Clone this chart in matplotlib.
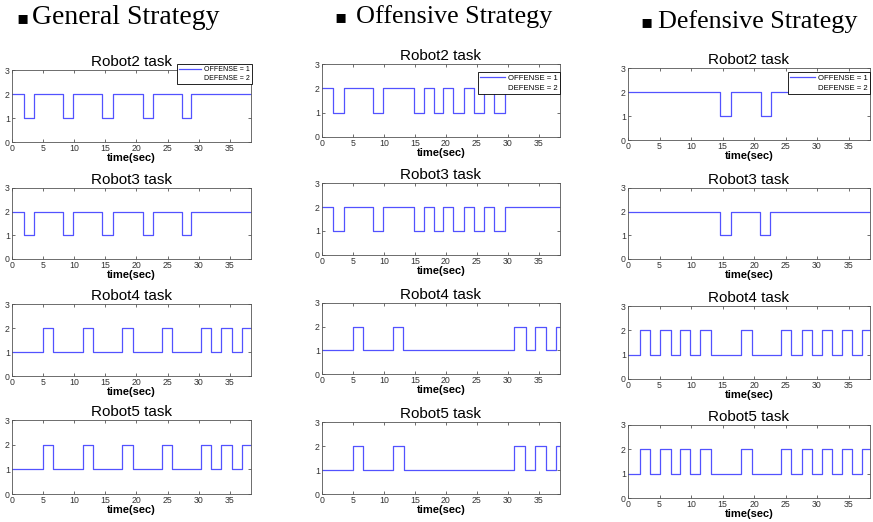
import matplotlib
matplotlib.use("Agg")
import matplotlib.pyplot as plt
from matplotlib.lines import Line2D

# ---- data: task switching times (sec) and task levels (1 = OFFENSE, 2 = DEFENSE) ----
strategy_names = ["General Strategy", "Offensive Strategy", "Defensive Strategy"]
robot_names = ["Robot2 task", "Robot3 task", "Robot4 task", "Robot5 task"]
legend_labels = ["OFFENSE = 1", "DEFENSE = 2"]
t_end = 38.4

gen_r2_t = [0, 1.9, 3.6, 8.2, 9.8, 14.5, 16.2, 21.0, 22.6, 27.3, 28.8]
gen_r2_v = [2, 1, 2, 1, 2, 1, 2, 1, 2, 1, 2]
gen_r3_t = [0, 1.9, 3.6, 8.2, 9.8, 14.5, 16.2, 21.0, 22.6, 27.3, 28.8]
gen_r3_v = [2, 1, 2, 1, 2, 1, 2, 1, 2, 1, 2]
gen_r4_t = [0, 5.05, 6.6, 11.4, 13.0, 17.7, 19.4, 24.15, 25.7, 30.4, 32.0, 33.6, 35.3, 37.0]
gen_r4_v = [1, 2, 1, 2, 1, 2, 1, 2, 1, 2, 1, 2, 1, 2]
gen_r5_t = [0, 5.05, 6.6, 11.4, 13.0, 17.7, 19.4, 24.15, 25.7, 30.4, 32.0, 33.6, 35.3, 37.0]
gen_r5_v = [1, 2, 1, 2, 1, 2, 1, 2, 1, 2, 1, 2, 1, 2]

off_r2_t = [0, 1.8, 3.5, 8.3, 9.9, 14.8, 16.4, 18.0, 19.6, 21.2, 22.9, 24.5, 26.2, 27.8, 29.5]
off_r2_v = [2, 1, 2, 1, 2, 1, 2, 1, 2, 1, 2, 1, 2, 1, 2]
off_r3_t = [0, 1.8, 3.5, 8.3, 9.9, 14.8, 16.4, 18.0, 19.6, 21.2, 22.9, 24.5, 26.2, 27.8, 29.5]
off_r3_v = [2, 1, 2, 1, 2, 1, 2, 1, 2, 1, 2, 1, 2, 1, 2]
off_r4_t = [0, 5.0, 6.6, 11.5, 13.1, 31.0, 32.9, 34.4, 36.1, 37.7]
off_r4_v = [1, 2, 1, 2, 1, 2, 1, 2, 1, 2]
off_r5_t = [0, 5.0, 6.6, 11.5, 13.2, 31.0, 32.8, 34.4, 36.1, 37.7]
off_r5_v = [1, 2, 1, 2, 1, 2, 1, 2, 1, 2]

def_r2_t = [0, 14.6, 16.3, 21.05, 22.7]
def_r2_v = [2, 1, 2, 1, 2]
def_r3_t = [0, 14.6, 16.3, 21.0, 22.6]
def_r3_v = [2, 1, 2, 1, 2]
def_r4_t = [0, 1.85, 3.45, 5.15, 6.75, 8.3, 9.9, 11.5, 13.1, 17.9, 19.6, 24.25, 25.9,
            27.6, 29.2, 30.8, 32.4, 34.0, 35.6, 37.2]
def_r4_v = [1, 2, 1, 2, 1, 2, 1, 2, 1, 2, 1, 2, 1, 2, 1, 2, 1, 2, 1, 2]
def_r5_t = [0, 1.85, 3.45, 5.15, 6.75, 8.3, 9.9, 11.5, 13.1, 17.9, 19.6, 24.25, 25.9,
            27.6, 29.2, 30.8, 32.4, 34.0, 35.6, 37.2]
def_r5_v = [1, 2, 1, 2, 1, 2, 1, 2, 1, 2, 1, 2, 1, 2, 1, 2, 1, 2, 1, 2]

series = [
    [(gen_r2_t, gen_r2_v), (gen_r3_t, gen_r3_v), (gen_r4_t, gen_r4_v), (gen_r5_t, gen_r5_v)],
    [(off_r2_t, off_r2_v), (off_r3_t, off_r3_v), (off_r4_t, off_r4_v), (off_r5_t, off_r5_v)],
    [(def_r2_t, def_r2_v), (def_r3_t, def_r3_v), (def_r4_t, def_r4_v), (def_r5_t, def_r5_v)],
]

x_ticks = [0, 5, 10, 15, 20, 25, 30, 35]
y_ticks = [0, 1, 2, 3]

# ---- layout (pixels) ----
W, H = 873, 522
col_lr = [(12, 251), (322, 560), (628, 870)]
row_tb = [
    [(70, 142), (188, 259), (304, 376), (420, 494)],
    [(64, 137), (183, 255), (303, 374), (422, 494)],
    [(68, 140), (188, 259), (306, 379), (425, 498)],
]
legend_anchor = [(252, 64), (560, 72), (870, 72)]
legend_size = [5.0, 5.6, 5.6]
# bullet x, text x, centre y, font size
header_pos = [(16, 32, 18, 20.0), (334, 356, 17, 18.8), (640, 658, 22, 18.8)]

line_color = (0.32, 0.32, 1.0)
sans = ["Liberation Sans", "DejaVu Sans"]
serif = ["Liberation Serif", "DejaVu Serif"]

fig = plt.figure(figsize=(W / 100, H / 100), dpi=100)
fig.patch.set_facecolor("white")

for c in range(3):
    l, r = col_lr[c]
    for ri in range(4):
        t, b = row_tb[c][ri]
        ax = fig.add_axes([l / W, 1 - b / H, (r - l) / W, (b - t) / H])
        tt, vv = series[c][ri]
        xs = list(tt) + [t_end]
        ys = list(vv) + [vv[-1]]
        ax.step(xs, ys, where="post", color=line_color, lw=0.9)
        ax.set_xlim(0, t_end)
        ax.set_ylim(0, 3)
        ax.set_xticks(x_ticks)
        ax.set_yticks(y_ticks)
        ax.tick_params(direction="in", length=2.5, width=0.5, labelsize=6.3,
                       top=True, right=True, pad=1.5, colors="#333333")
        for lab in ax.get_xticklabels() + ax.get_yticklabels():
            lab.set_family(sans)
        for sp in ax.spines.values():
            sp.set_color("#555555")
            sp.set_linewidth(0.6)
        ax.set_title(robot_names[ri], fontsize=11, family=sans, pad=3)
        ax.set_xlabel("time(sec)", fontsize=8.0, fontweight="bold", family=sans, labelpad=0)
        if ri == 0:
            handles = [Line2D([], [], color=line_color, lw=0.9),
                       Line2D([], [], color="none", lw=0)]
            ax_, ay_ = legend_anchor[c]
            leg = ax.legend(handles, legend_labels, loc="upper right",
                            bbox_to_anchor=(ax_ / W, 1 - ay_ / H),
                            bbox_transform=fig.transFigure, borderaxespad=0,
                            prop={"family": sans, "size": legend_size[c]},
                            handlelength=3.2, handletextpad=0.4,
                            labelspacing=0.3, borderpad=0.3,
                            fancybox=False, framealpha=1, edgecolor="black")
            leg.get_frame().set_linewidth(0.6)

for c in range(3):
    bx, tx, ty, fs = header_pos[c]
    fig.text(bx / W, 1 - ty / H, "\u25aa", fontsize=13, family=["DejaVu Sans"],
             va="center", ha="left")
    fig.text(tx / W, 1 - ty / H, strategy_names[c], fontsize=fs, family=serif,
             va="center", ha="left")

fig.savefig("out.png", dpi=100)
